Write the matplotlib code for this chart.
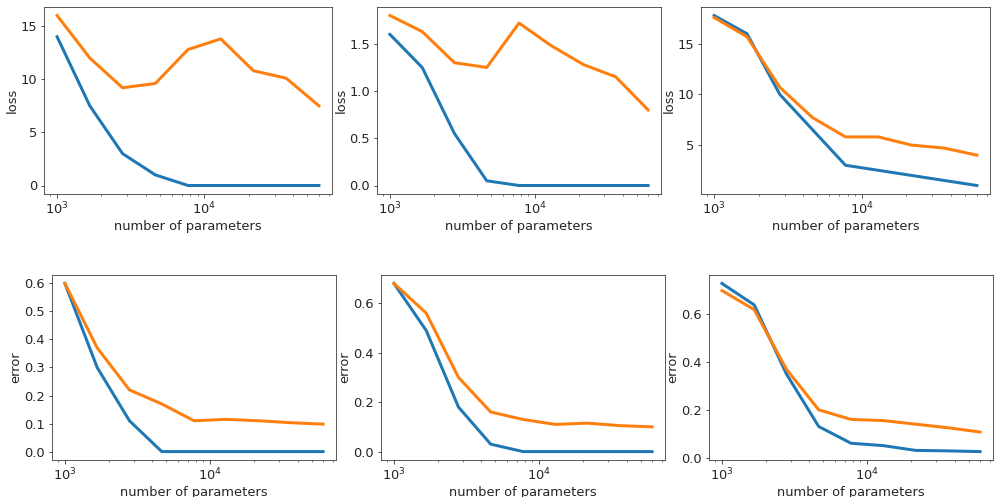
import matplotlib
matplotlib.use("Agg")
import matplotlib.pyplot as plt

# number of parameters (log-spaced sweep)
n_params = [1000, 1668, 2783, 4642, 7743, 12915, 21544, 35938, 59948]

# top row: loss, train (blue) / test (orange)
loss_train_a = [14.0, 7.5, 3.0, 1.0, 0.0, 0.0, 0.0, 0.0, 0.0]
loss_test_a = [16.0, 12.0, 9.2, 9.6, 12.8, 13.8, 10.8, 10.1, 7.5]
loss_train_b = [1.6, 1.25, 0.55, 0.05, 0.0, 0.0, 0.0, 0.0, 0.0]
loss_test_b = [1.8, 1.63, 1.3, 1.25, 1.72, 1.48, 1.28, 1.15, 0.8]
loss_train_c = [17.8, 16.0, 10.0, 6.5, 3.0, 2.5, 2.0, 1.5, 1.0]
loss_test_c = [17.6, 15.7, 10.7, 7.7, 5.8, 5.8, 5.0, 4.7, 4.0]

# bottom row: error
err_train_a = [0.6, 0.3, 0.11, 0.0, 0.0, 0.0, 0.0, 0.0, 0.0]
err_test_a = [0.6, 0.37, 0.22, 0.17, 0.11, 0.115, 0.11, 0.103, 0.098]
err_train_b = [0.68, 0.49, 0.18, 0.03, 0.0, 0.0, 0.0, 0.0, 0.0]
err_test_b = [0.68, 0.56, 0.30, 0.16, 0.13, 0.11, 0.115, 0.105, 0.10]
err_train_c = [0.73, 0.64, 0.35, 0.13, 0.06, 0.05, 0.03, 0.028, 0.025]
err_test_c = [0.70, 0.62, 0.37, 0.20, 0.16, 0.155, 0.14, 0.125, 0.107]

plt.rcParams['font.size'] = 13
plt.rcParams['text.color'] = '#262626'
plt.rcParams['axes.labelcolor'] = '#262626'
plt.rcParams['xtick.color'] = '#262626'
plt.rcParams['ytick.color'] = '#262626'
W, H = 995, 497
fig = plt.figure(figsize=(W / 72, H / 72), dpi=72)

# axes boxes in pixels: (left, top, right, bottom)
boxes = [
    (44, 7, 332, 194), (377, 7, 661, 194), (701, 7, 990, 194),
    (52, 275, 336, 460), (381, 275, 665, 460), (709, 275, 993, 460),
]
series = [
    (loss_train_a, loss_test_a, 'loss'),
    (loss_train_b, loss_test_b, 'loss'),
    (loss_train_c, loss_test_c, 'loss'),
    (err_train_a, err_test_a, 'error'),
    (err_train_b, err_test_b, 'error'),
    (err_train_c, err_test_c, 'error'),
]

for (l, t, r, b), (train, test, ylab) in zip(boxes, series):
    ax = fig.add_axes([l / W, 1 - b / H, (r - l) / W, (b - t) / H])
    ax.plot(n_params, train, color='#1f77b4', lw=3)
    ax.plot(n_params, test, color='#ff7f0e', lw=3)
    ax.set_xscale('log')
    ax.set_xlabel('number of parameters', labelpad=2)
    ax.set_ylabel(ylab, labelpad=2)
    for s in ax.spines.values():
        s.set_color('#333333')

plt.savefig('out.png', dpi=72)
